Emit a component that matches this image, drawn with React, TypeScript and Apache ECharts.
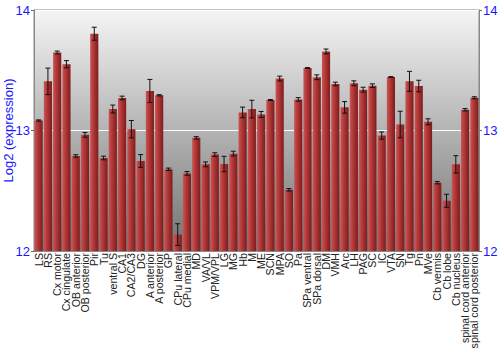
import React, { useEffect, useRef } from "react";
import * as echarts from "echarts";

const categories = [
  "LS", "RS", "Cx motor", "Cx cingulate", "OB anterior", "OB posterior", "Pir", "Tu",
  "ventral S", "CA1", "CA2/CA3", "DG", "A anterior", "A posterior", "GP", "CPu lateral",
  "CPu medial", "MD", "VA/VL", "VPM/VPL", "LG", "MG", "Hb", "M", "ME", "SCN", "MPA", "SO",
  "Pa", "SPa ventral", "SPa dorsal", "DM", "VMH", "Arc", "LH", "PAG", "SC", "IC", "VTA",
  "SN", "Tg", "Pn", "MVe", "Cb vermis", "Cb lobe", "Cb nucleus", "spinal cord anterior",
  "spinal cord posterior",
];

const values = [
  13.083, 13.408, 13.647, 13.55, 12.789, 12.964, 13.803, 12.772,
  13.178, 13.27, 13.011, 12.747, 13.328, 13.292, 12.678, 12.136,
  12.644, 12.939, 12.719, 12.8, 12.722, 12.808, 13.15, 13.178, 13.133, 13.253, 13.431, 12.508,
  13.258, 13.519, 13.442, 13.656, 13.386, 13.192, 13.392, 13.339, 13.372, 12.958, 13.444,
  13.05, 13.408, 13.369, 13.072, 12.567, 12.417, 12.719, 13.172,
  13.272,
];

const errors = [
  0.005, 0.11, 0.012, 0.03, 0.01, 0.02, 0.054, 0.015,
  0.033, 0.015, 0.072, 0.053, 0.096, 0.005, 0.01, 0.09,
  0.015, 0.01, 0.02, 0.015, 0.064, 0.02, 0.044, 0.073, 0.025, 0.004, 0.02, 0.01,
  0.015, 0.003, 0.02, 0.02, 0.015, 0.048, 0.02, 0.02, 0.015, 0.03, 0.003,
  0.11, 0.083, 0.048, 0.025, 0.01, 0.054, 0.072, 0.01,
  0.008,
];

const yTicks = { min: 12, max: 14, interval: 1 };

export default function App() {
  const ref = useRef<HTMLDivElement>(null);
  useEffect(() => {
    if (!ref.current) return;
    const chart = echarts.init(ref.current, null, { renderer: "svg" });
    const blue = "#1818ff";
    const yAxisCommon = {
      type: "value",
      min: yTicks.min,
      max: yTicks.max,
      interval: yTicks.interval,
      axisLine: { show: true, lineStyle: { color: "#888", width: 1 } },
      axisTick: { show: true, length: 3, lineStyle: { color: "#666" } },
      axisLabel: { color: blue, fontSize: 13, margin: 4, fontFamily: "Liberation Sans, Arial, sans-serif" },
    };
    chart.setOption({
      animation: false,
      grid: {
        left: 34,
        right: 21,
        top: 10,
        bottom: 99,
        outerBoundsMode: "none",
        containLabel: false,
        show: true,
        borderColor: "#888",
        borderWidth: 1,
        backgroundColor: new echarts.graphic.LinearGradient(0, 0, 0, 1, [
          { offset: 0, color: "#f5f5f5" },
          { offset: 1, color: "#727272" },
        ]),
      },
      xAxis: {
        type: "category",
        data: categories,
        axisLine: { show: true, lineStyle: { color: "#888" } },
        axisTick: { show: false },
        axisLabel: {
          interval: 0,
          rotate: 90,
          fontSize: 10.6,
          color: "#222",
          margin: 2,
          fontFamily: "Liberation Sans, Arial, sans-serif",
        },
      },
      yAxis: [
        {
          ...yAxisCommon,
          position: "left",
          name: "Log2 (expression)",
          nameLocation: "middle",
          nameGap: 19,
          nameMoveOverlap: false,
          nameTextStyle: { color: blue, fontSize: 13, fontFamily: "Liberation Sans, Arial, sans-serif" },
          splitLine: { show: true, lineStyle: { color: "#ffffff", width: 1 } },
        },
        {
          ...yAxisCommon,
          position: "right",
          splitLine: { show: false },
        },
      ],
      series: [
        {
          type: "bar",
          data: values,
          barCategoryGap: "12%",
          itemStyle: {
            color: new echarts.graphic.LinearGradient(0, 0, 1, 0, [
              { offset: 0, color: "#c85656" },
              { offset: 0.35, color: "#b83a3a" },
              { offset: 1, color: "#7c1c1c" },
            ]),
          },
        },
        {
          type: "custom",
          data: categories.map((c, i) => [i, values[i] - errors[i], values[i] + errors[i]]),
          encode: { x: 0, y: [1, 2] },
          z: 10,
          renderItem: (params: any, api: any) => {
            const x = api.value(0);
            const lo = api.coord([x, api.value(1)]);
            const hi = api.coord([x, api.value(2)]);
            const w = 2.5;
            const st = { stroke: "#111", lineWidth: 1 };
            return {
              type: "group",
              children: [
                { type: "line", shape: { x1: lo[0], y1: lo[1], x2: hi[0], y2: hi[1] }, style: st },
                { type: "line", shape: { x1: lo[0] - w, y1: lo[1], x2: lo[0] + w, y2: lo[1] }, style: st },
                { type: "line", shape: { x1: hi[0] - w, y1: hi[1], x2: hi[0] + w, y2: hi[1] }, style: st },
              ],
            };
          },
        },
      ],
    });
    return () => chart.dispose();
  }, []);
  return <div ref={ref} style={{ width: 500, height: 350, position: "absolute", left: 0, top: 0 }} />;
}
